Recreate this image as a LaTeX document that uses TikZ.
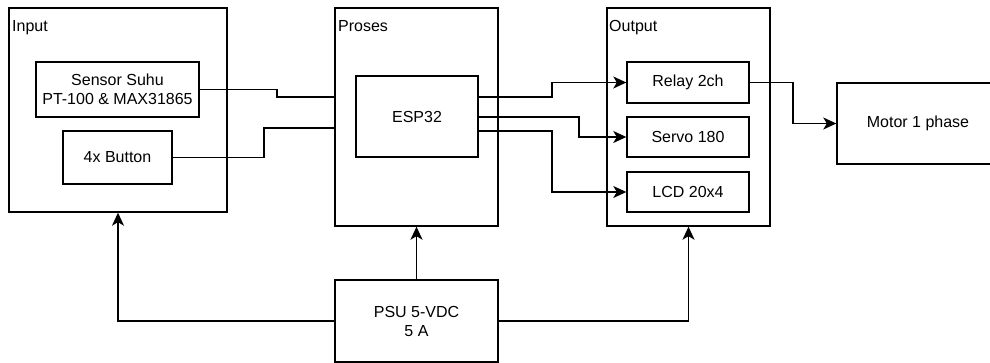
\documentclass[tikz,border=0pt]{standalone}
\usepackage{fontspec}
\setmainfont{Liberation Sans}
\usetikzlibrary{arrows.meta}
\begin{document}
\begin{tikzpicture}[
  box/.style={draw, line width=1.4pt, inner sep=0pt, align=center, font=\fontsize{16}{19}\selectfont},
  title/.style={anchor=base west, inner sep=0pt, font=\fontsize{16}{19}\selectfont},
  wire/.style={line width=1.5pt},
  arr/.style={line width=1.5pt, -{Stealth[length=13pt,width=12pt,inset=3.5pt]}}]
\begin{scope}[x=1pt,y=-1pt]
\useasboundingbox (0,0) rectangle (990,363);
\clip (0,0) rectangle (990,363);
% groups
\node[box, minimum width=218pt, minimum height=204pt] (input) at (118,110) {};
\node[box, minimum width=163pt, minimum height=218pt] (proses) at (416.5,117) {};
\node[box, minimum width=163pt, minimum height=218pt] (output) at (688.5,117) {};
\node[title] (tin) at (12,32) {Input};
\node[title] (tpr) at (338,32) {Proses};
\node[title] (tout) at (609,32) {Output};
% inner blocks
\node[box, minimum width=163pt, minimum height=55pt] (sensor) at (117.5,89.5) {Sensor Suhu\\PT-100 \& MAX31865};
\node[box, minimum width=109pt, minimum height=53pt] (button) at (117.5,157.5) {4x Button};
\node[box, minimum width=122pt, minimum height=81pt] (esp) at (417,116.5) {ESP32};
\node[box, minimum width=122pt, minimum height=41pt] (relay) at (688,82.5) {Relay 2ch};
\node[box, minimum width=122pt, minimum height=40pt] (servo) at (688,137) {Servo 180};
\node[box, minimum width=122pt, minimum height=40pt] (lcd) at (688,192) {LCD 20x4};
\node[box, minimum width=162pt, minimum height=81pt] (motor) at (918,123.5) {Motor 1 phase};
\node[box, minimum width=163pt, minimum height=82pt] (psu) at (416.5,321) {PSU 5-VDC\\5 A};
% connectors
\draw[wire] (sensor.east) -- (277,89.5) |- (proses.west |- 0,97);
\draw[wire] (button.east) -- (264,157.5) |- (proses.west |- 0,128);
\draw[arr] (esp.east |- 0,97) -- (552,97) |- (relay.west);
\draw[arr] (esp.east |- 0,117) -- (579,117) |- (servo.west);
\draw[arr] (esp.east |- 0,131) -- (552,131) |- (lcd.west);
\draw[arr] (relay.east) -- (793,82.5) |- (motor.west);
\draw[arr] (psu.west) -| (input.south);
\draw[arr] (psu.north) -- (proses.south);
\draw[arr] (psu.east) -| (output.south);
\end{scope}
\end{tikzpicture}
\end{document}
